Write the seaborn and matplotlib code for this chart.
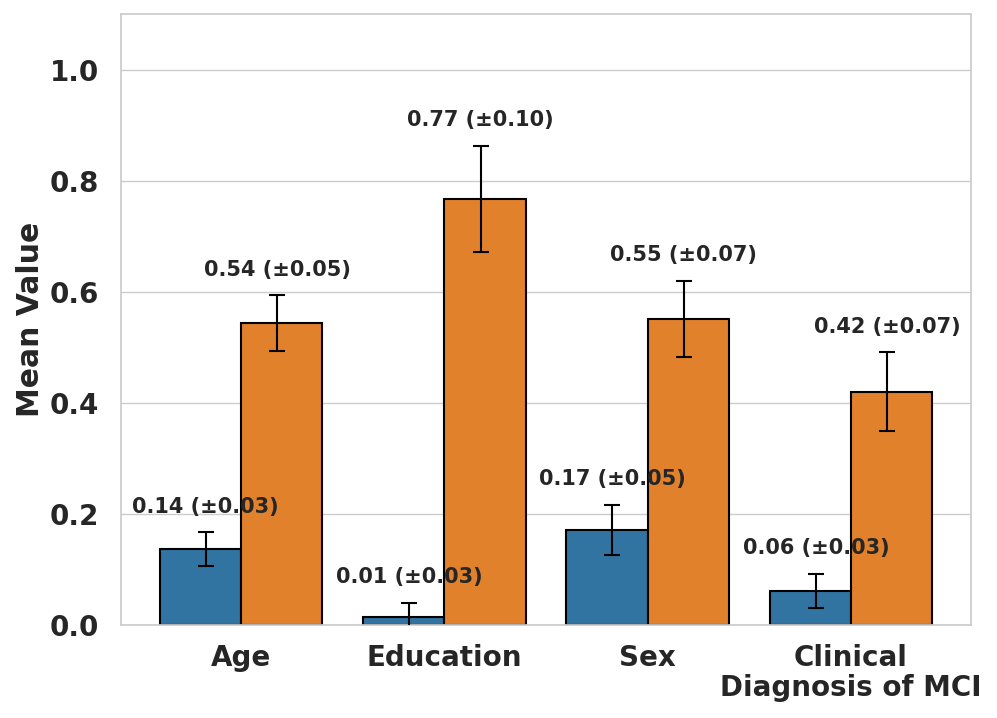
#Import the libraries : Pandas, Matplotlib and Seaborn
import pandas as pd
import matplotlib
matplotlib.use("Agg")
import matplotlib.pyplot as plt
import seaborn as sns

#Chart values
categories = ["Age", "Education", "Sex", "Clinical\nDiagnosis of MCI"]
groups = ["Group 1", "Group 2"]
means_1 = [0.137, 0.015, 0.171, 0.061]
errors_1 = [0.03, 0.025, 0.045, 0.031]
means_2 = [0.544, 0.767, 0.551, 0.420]
errors_2 = [0.05, 0.096, 0.069, 0.071]
labels_1 = ["0.14 (±0.03)", "0.01 (±0.03)", "0.17 (±0.05)", "0.06 (±0.03)"]
labels_2 = ["0.54 (±0.05)", "0.77 (±0.10)", "0.55 (±0.07)", "0.42 (±0.07)"]

data = pd.DataFrame({
    "Variable": categories * 2,
    "Group": [groups[0]] * 4 + [groups[1]] * 4,
    "Mean": means_1 + means_2,
})

sns.set_theme(style="whitegrid")
plt.rcParams['font.family'] = ['DejaVu Sans']

fig, ax = plt.subplots(figsize=(9.97, 7.18), dpi=100)
fig.subplots_adjust(left=121/997, right=971/997, top=1-14/718, bottom=1-625/718)

sns.barplot(data=data, x="Variable", y="Mean", hue="Group", palette="tab10",
            edgecolor="black", linewidth=1.5, legend=False, ax=ax)

#Error bars and value labels for each hue level (sit a bit inward of bar centre)
all_errors = [errors_1, errors_2]
all_means = [means_1, means_2]
all_labels = [labels_1, labels_2]
shifts = [0.027, -0.022]
for container, means, errs, labs, s in zip(ax.containers, all_means, all_errors, all_labels, shifts):
    for bar, m, e, lab in zip(container, means, errs, labs):
        xc = bar.get_x() + bar.get_width() / 2 + s
        ax.errorbar(xc, m, yerr=e, color="black", capsize=6, elinewidth=1.5,
                    capthick=1.5, zorder=3)
        ax.text(xc, m + e + 0.046, lab, ha="center", va="center", fontsize=15,
                fontweight="bold", color="#262626", zorder=4)

ax.set_ylim(0, 1.1)
ax.set_xlabel("")
ax.set_ylabel("Mean Value", fontsize=21.5, fontweight="bold")
ax.tick_params(axis="both", labelsize=20)
ax.tick_params(axis="x", pad=7.8)
ax.tick_params(axis="y", pad=9.5)
for t in ax.get_xticklabels() + ax.get_yticklabels():
    t.set_fontweight("bold")
for t in ax.get_xticklabels():
    t.set_linespacing(1.1)
ax.xaxis.grid(False)

plt.savefig("out.png", dpi=100)
